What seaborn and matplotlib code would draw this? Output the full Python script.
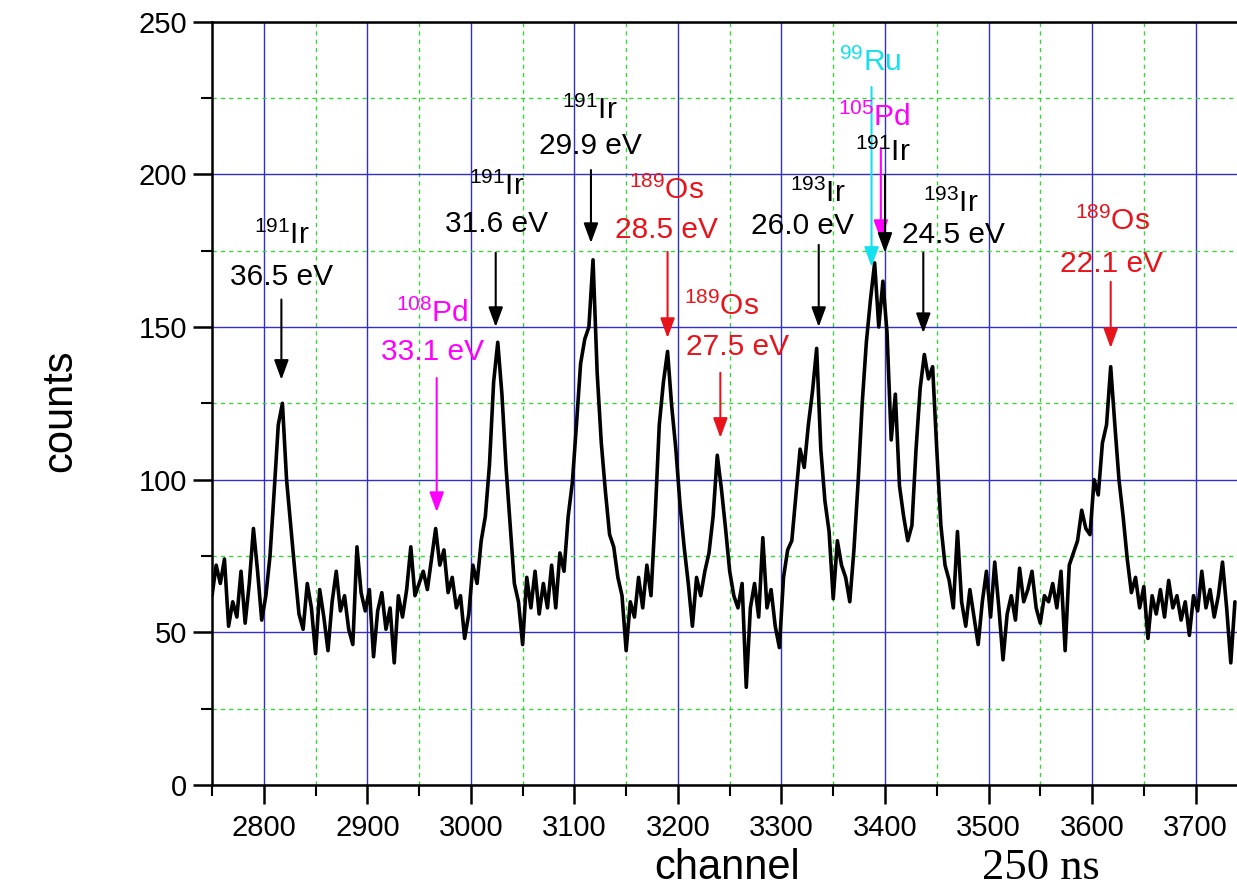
import numpy as np
import pandas as pd
import matplotlib.pyplot as plt
import seaborn as sns
from matplotlib.ticker import MultipleLocator

# spectrum, one value every 4 channels
channel = np.arange(2750, 3739, 4)
counts = [
    62, 72, 66, 74, 52, 60, 55, 70, 53, 66,
    84, 70, 54, 62, 75, 96, 118, 125, 100, 85,
    70, 56, 51, 66, 58, 43, 64, 55, 44, 60,
    70, 57, 62, 51, 46, 78, 63, 57, 64, 42,
    57, 63, 51, 58, 40, 62, 55, 64, 78, 62,
    66, 70, 64, 74, 84, 72, 77, 63, 68, 58,
    62, 48, 56, 72, 66, 80, 88, 105, 132, 145,
    128, 104, 85, 66, 60, 46, 68, 58, 70, 56,
    66, 58, 72, 58, 76, 70, 88, 99, 118, 138,
    146, 150, 172, 135, 112, 96, 82, 78, 68, 62,
    44, 60, 55, 68, 58, 72, 62, 88, 118, 132,
    142, 124, 110, 92, 78, 66, 52, 68, 62, 70,
    76, 88, 108, 97, 84, 70, 62, 58, 66, 32,
    58, 66, 55, 81, 58, 64, 52, 45, 68, 77,
    80, 95, 110, 104, 118, 129, 143, 110, 93, 83,
    61, 80, 72, 68, 60, 77, 99, 125, 145, 159,
    171, 150, 165, 148, 113, 128, 98, 88, 80, 85,
    110, 130, 141, 133, 137, 110, 85, 72, 67, 58,
    83, 60, 52, 64, 55, 46, 60, 70, 55, 73,
    58, 41, 56, 62, 54, 71, 60, 64, 70, 58,
    53, 62, 60, 66, 58, 70, 44, 72, 76, 80,
    90, 84, 82, 100, 95, 112, 118, 137, 118, 100,
    88, 74, 63, 68, 58, 65, 48, 62, 56, 64,
    55, 67, 58, 62, 54, 60, 49, 62, 57, 70,
    58, 64, 55, 62, 73, 58, 40, 60,
]

# peak assignments
peak_channel = [2817, 2967, 3024, 3116, 3190, 3241, 3336, 3387, 3396, 3400, 3437, 3618]
mass = ["191", "108", "191", "191", "189", "189", "193", "99", "105", "191", "193", "189"]
element = ["Ir", "Pd", "Ir", "Ir", "Os", "Os", "Ir", "Ru", "Pd", "Ir", "Ir", "Os"]
energy = ["36.5 eV", "33.1 eV", "31.6 eV", "29.9 eV", "28.5 eV", "27.5 eV",
          "26.0 eV", "", "", "", "24.5 eV", "22.1 eV"]
peak_color = ["black", "#ff00ff", "black", "black", "#e8141c", "#e8141c",
              "black", "#14e0ee", "#ff00ff", "black", "black", "#e8141c"]

# layout of labels and arrows (x in channel, y in counts)
name_pos = [(2817, 180), (2963, 154.6), (3025, 195.9), (3115, 220.8), (3189, 194.6),
            (3242, 156.6), (3335, 193.6), (3386, 236.8), (3390, 218.8), (3398, 207.3),
            (3464, 190.6), (3620, 184.7)]
energy_pos = [(2817, 166.4), (2963, 141.8), (3025, 183.8), (3115, 209.3), (3189, 181.8),
              (3258, 143.5), (3320, 183.1), None, None, None,
              (3466, 180.2), (3619, 170.7)]
arrow_from = [159, 133.3, 174.3, 201.4, 174.6, 135, 176.9, 228.6, 208.6, 199.8, 174.3, 164.8]
arrow_to = [132.7, 89.4, 150, 177.5, 146.4, 113.7, 150, 169.7, 178.5, 174.3, 148, 143.1]

df = pd.DataFrame({"channel": channel, "counts": counts})

sns.set_theme(style="white")
plt.rcParams["font.family"] = ["Liberation Sans", "DejaVu Sans"]
plt.rcParams["text.color"] = "black"
plt.rcParams["mathtext.fontset"] = "custom"
plt.rcParams["mathtext.rm"] = "Liberation Sans"
plt.rcParams["mathtext.it"] = "Liberation Sans:italic"

fig = plt.figure(figsize=(12.37, 8.96), dpi=100)
ax = fig.add_axes([0.1714, 0.1239, 0.8286, 0.8519])

sns.lineplot(data=df, x="channel", y="counts", color="black", lw=2.6, ax=ax)

ax.set_xlim(2750, 3740)
ax.set_ylim(0, 250)
ax.xaxis.set_major_locator(MultipleLocator(100))
ax.xaxis.set_minor_locator(MultipleLocator(50))
ax.yaxis.set_major_locator(MultipleLocator(50))
ax.yaxis.set_minor_locator(MultipleLocator(25))
ax.grid(which="major", color="#3030c8", lw=1.0, ls="-")
ax.grid(which="minor", color="#3ad43a", lw=1.0, ls=(0, (3, 3)))
ax.set_axisbelow(True)
ax.tick_params(which="both", bottom=True, left=True, direction="out", colors="black")
ax.tick_params(which="major", length=14, width=1.8, labelsize=21)
ax.tick_params(axis="x", which="major", pad=7)
ax.tick_params(axis="y", which="major", pad=4)
ax.tick_params(which="minor", length=8, width=1.5)
ax.spines["right"].set_visible(False)
for s in ["left", "bottom", "top"]:
    ax.spines[s].set_color("black")
    ax.spines[s].set_linewidth(1.8)
ax.set_xlabel("")
ax.set_ylabel("")

for i in range(len(peak_channel)):
    c = peak_color[i]
    ax.text(name_pos[i][0], name_pos[i][1], r"$\mathregular{^{%s}}$%s" % (mass[i], element[i]),
            color=c, fontsize=21.5, ha="center", va="center")
    if energy_pos[i] is not None:
        ax.text(energy_pos[i][0], energy_pos[i][1], energy[i], color=c, fontsize=21.5,
                ha="center", va="center")
    ax.annotate("", xy=(peak_channel[i], arrow_to[i]), xytext=(peak_channel[i], arrow_from[i]),
                arrowprops=dict(arrowstyle="-|>,head_length=0.6,head_width=0.22",
                                color=c, lw=1.5, mutation_scale=20, shrinkA=0, shrinkB=0))

fig.text(0.0485, 0.542, "counts", rotation=90, fontsize=30, ha="center", va="center", color="black")
fig.text(0.588, 0.031, "channel", fontsize=30, ha="center", va="center", color="black")
fig.text(0.8416, 0.031, "250 ns", fontsize=32, ha="center", va="center", color="black",
         family=["Liberation Serif", "DejaVu Serif"])

fig.savefig("out.png", dpi=100)
